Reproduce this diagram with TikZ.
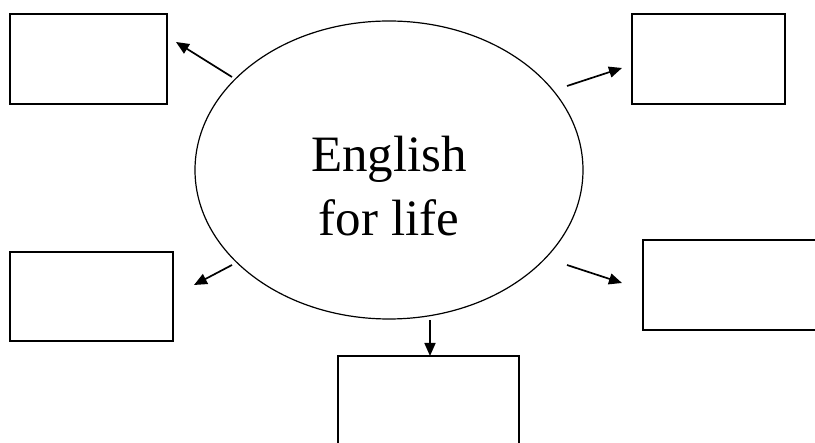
\documentclass[tikz,border=0pt]{standalone}
\usepackage{fontspec}
\setmainfont{Liberation Serif}
\usetikzlibrary{shapes.geometric,arrows.meta}
\begin{document}
\begin{tikzpicture}[x=1pt,y=-1pt,
  box/.style={draw,line width=1.4pt},
  conn/.style={draw,line width=1.7pt,-{Triangle[length=13pt,width=11pt]}}]
\clip (0,0) rectangle (815,443);
\useasboundingbox (0,0) rectangle (815,443);
\fill[white] (0,0) rectangle (815,443);
\node[draw,ellipse,line width=1.2pt,minimum width=388pt,minimum height=298pt,inner sep=0pt] (e) at (389,170) {};
\node[align=center,font=\fontsize{51}{64}\selectfont] (lbl) at (389,186) {English\\for life};
\draw[box] (10,14) rectangle (167,104) node[pos=0.5] (b1) {};
\draw[box] (632,14) rectangle (785,104) node[pos=0.5] (b2) {};
\draw[box] (10,252) rectangle (173,341) node[pos=0.5] (b3) {};
\draw[box] (643,240) rectangle (830,330) node[pos=0.5] (b4) {};
\draw[box] (338,356) rectangle (519,460) node[pos=0.5] (b5) {};
\coordinate (s1) at (232,77);  \coordinate (t1) at (176,42);
\coordinate (s2) at (567,86);  \coordinate (t2) at (622,68);
\coordinate (s3) at (232,265); \coordinate (t3) at (194,285);
\coordinate (s4) at (567,265); \coordinate (t4) at (622,283);
\coordinate (s5) at (430,320); \coordinate (t5) at (430,356);
\draw[conn] (s1) -- (t1);
\draw[conn] (s2) -- (t2);
\draw[conn] (s3) -- (t3);
\draw[conn] (s4) -- (t4);
\draw[conn] (s5) -- (t5);
\end{tikzpicture}
\end{document}
